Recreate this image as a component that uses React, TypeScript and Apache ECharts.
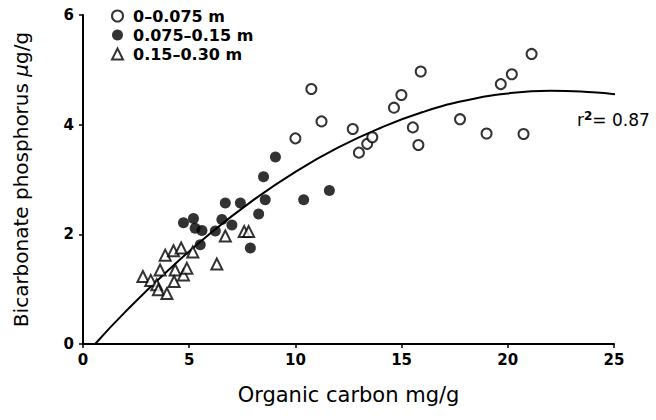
import React, { useEffect, useRef } from "react";
import * as echarts from "echarts";

const xTicks = [0, 5, 10, 15, 20, 25];
const yTicks = [0, 2, 4, 6];

const seriesNames = ["0\u20130.075 m", "0.075\u20130.15 m", "0.15\u20130.30 m"];

const shallowOpen: [number, number][] = [
  [10.0, 3.75], [10.75, 4.65], [11.23, 4.06], [12.7, 3.92], [12.99, 3.49],
  [13.38, 3.65], [13.62, 3.77], [14.64, 4.31], [14.99, 4.54], [15.53, 3.95],
  [15.79, 3.63], [15.9, 4.97], [17.75, 4.1], [19.0, 3.84], [19.67, 4.74],
  [20.19, 4.92], [20.74, 3.83], [21.12, 5.29],
];

const middleFilled: [number, number][] = [
  [4.73, 2.21], [5.2, 2.29], [5.28, 2.11], [5.6, 2.07], [5.52, 1.81],
  [6.23, 2.06], [6.54, 2.27], [6.7, 2.57], [7.01, 2.17], [7.41, 2.57],
  [7.88, 1.75], [8.27, 2.37], [8.5, 3.05], [8.58, 2.63], [9.06, 3.41],
  [10.39, 2.63], [11.6, 2.8],
];

const deepTriangles: [number, number][] = [
  [2.82, 1.23], [3.19, 1.16], [3.47, 1.08], [3.55, 0.99], [3.63, 1.35],
  [3.87, 1.62], [3.95, 0.92], [4.26, 1.7], [4.34, 1.35], [4.29, 1.14],
  [4.62, 1.75], [4.73, 1.26], [4.89, 1.38], [5.17, 1.68], [6.3, 1.46],
  [6.7, 1.97], [7.59, 2.05], [7.8, 2.05],
];

const fitCurve: [number, number][] = [
  [0.57, 0], [2, 0.59], [4, 1.34], [6, 2.02], [8, 2.62], [10, 3.14],
  [12, 3.58], [14, 3.94], [16, 4.23], [18, 4.44], [20, 4.57], [22, 4.62],
  [24, 4.59], [25.1, 4.55],
];

const r2Label = "0.87";

const FONT = "DejaVu Sans";

export default function App() {
  const ref = useRef<HTMLDivElement>(null);
  useEffect(() => {
    document.body.style.margin = "0";
    if (!ref.current) return;
    const chart = echarts.init(ref.current, null, { renderer: "svg" });
    const openStyle = { color: "#fff", borderColor: "#000", borderWidth: 2 };
    chart.setOption({
      animation: false,
      backgroundColor: "#fff",
      grid: { left: 83, right: 42, top: 15, bottom: 76, containLabel: false },
      legend: {
        orient: "vertical",
        left: 106,
        top: 3,
        itemGap: 3,
        itemWidth: 11,
        itemHeight: 11,
        data: seriesNames,
        textStyle: {
          fontFamily: FONT,
          fontWeight: "bold",
          fontSize: 16,
          color: "#000",
          padding: [0, 0, 0, 5],
        },
      },
      xAxis: {
        type: "value",
        min: xTicks[0],
        max: xTicks[xTicks.length - 1],
        interval: 5,
        name: "Organic carbon mg/g",
        nameLocation: "middle",
        nameGap: 40,
        nameTextStyle: { fontFamily: FONT, fontSize: 21, color: "#000" },
        axisLine: { lineStyle: { color: "#000", width: 2 } },
        axisTick: { show: true, length: 4, lineStyle: { color: "#000", width: 1.5 } },
        axisLabel: { fontFamily: FONT, fontWeight: "bold", fontSize: 15, color: "#000", margin: 8 },
        splitLine: { show: false },
      },
      yAxis: {
        type: "value",
        min: yTicks[0],
        max: yTicks[yTicks.length - 1],
        interval: 2,
        name: "Bicarbonate phosphorus {mu|\u00b5}g/g",
        nameLocation: "middle",
        nameGap: 52,
        nameTextStyle: {
          fontFamily: FONT,
          fontSize: 20,
          color: "#000",
          rich: { mu: { fontFamily: FONT, fontSize: 20, fontStyle: "italic", color: "#000" } },
        },
        axisLine: { show: true, lineStyle: { color: "#000", width: 2 } },
        axisTick: { show: true, length: 4, lineStyle: { color: "#000", width: 1.5 } },
        axisLabel: { fontFamily: FONT, fontWeight: "bold", fontSize: 15, color: "#000", margin: 9 },
        splitLine: { show: false },
      },
      series: [
        {
          name: "fit",
          type: "line",
          data: fitCurve,
          smooth: true,
          showSymbol: false,
          lineStyle: { color: "#000", width: 2 },
          z: 1,
        },
        {
          name: seriesNames[0],
          type: "scatter",
          data: shallowOpen,
          symbol: "circle",
          symbolSize: 10,
          itemStyle: openStyle,
          z: 3,
        },
        {
          name: seriesNames[1],
          type: "scatter",
          data: middleFilled,
          symbol: "circle",
          symbolSize: 11,
          itemStyle: { color: "#000", borderColor: "#000", borderWidth: 0 },
          z: 3,
        },
        {
          name: seriesNames[2],
          type: "scatter",
          data: deepTriangles,
          symbol: "triangle",
          symbolSize: 11,
          itemStyle: openStyle,
          z: 3,
        },
      ],
      graphic: [
        {
          type: "text",
          left: 577,
          top: 110,
          style: {
            text: "r{sup|2}= " + r2Label,
            rich: {
              sup: {
                fontSize: 12,
                fontFamily: FONT,
                fontWeight: "bold",
                verticalAlign: "top",
                padding: [0, 0, 8, 0],
              },
            },
            fontFamily: FONT,
            fontSize: 17,
            fill: "#000",
          },
        },
      ],
    });
    return () => chart.dispose();
  }, []);
  return <div ref={ref} style={{ width: 656, height: 420 }} />;
}
